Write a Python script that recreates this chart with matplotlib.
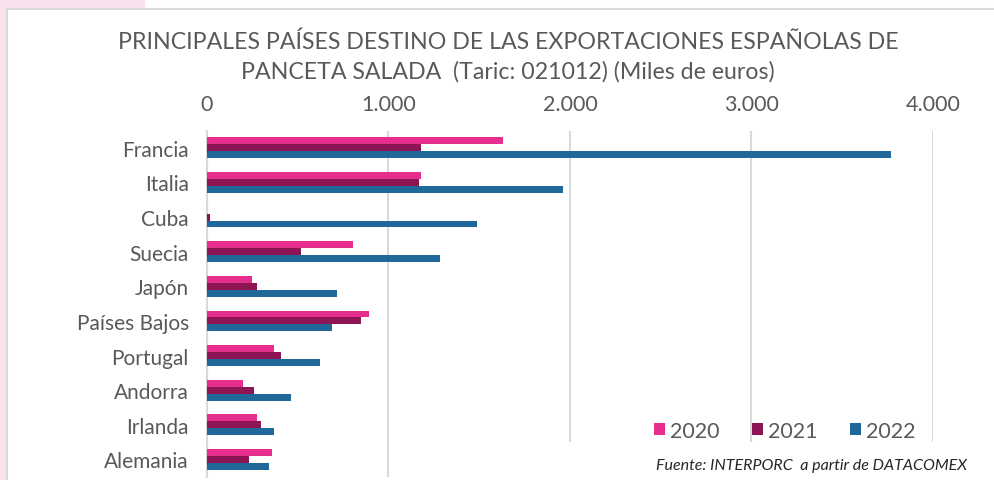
import numpy as np
import matplotlib.pyplot as plt
from matplotlib.patches import Rectangle

# Exportaciones de panceta salada (miles de euros)
paises = ["Francia", "Italia", "Cuba", "Suecia", "Japón",
          "Países Bajos", "Portugal", "Andorra", "Irlanda", "Alemania"]
v2020 = [1633, 1180, 0, 804, 246, 891, 367, 200, 275, 358]
v2021 = [1179, 1168, 15, 520, 275, 850, 408, 257, 298, 230]
v2022 = [3770, 1960, 1485, 1285, 716, 689, 621, 465, 367, 341]
anios = ["2020", "2021", "2022"]

xticks = [0, 1000, 2000, 3000, 4000]
xtick_labels = ["0", "1.000", "2.000", "3.000", "4.000"]

colores = ["#e52e8e", "#8e1553", "#21689a"]
gris_texto = "#595959"
gris_linea = "#d9d9d9"

plt.rcParams['font.family'] = ['Lato', 'DejaVu Sans']

fig = plt.figure(figsize=(9.95, 4.81), dpi=100)
fig.patch.set_facecolor("white")

# marco exterior
fig.patches.append(Rectangle((0, 0), 7 / 995, 1, transform=fig.transFigure,
                             facecolor="#fbe3ee", edgecolor="none", zorder=0))
fig.patches.append(Rectangle((0, 1 - 10 / 481), 145 / 995, 10 / 481, transform=fig.transFigure,
                             facecolor="#fbe3ee", edgecolor="none", zorder=0))
fig.add_artist(plt.Line2D([7 / 995, 7 / 995], [0, 1 - 10 / 481], transform=fig.transFigure,
                          color=gris_linea, lw=1.5))
fig.add_artist(plt.Line2D([7 / 995, 1], [1 - 10 / 481, 1 - 10 / 481], transform=fig.transFigure,
                          color=gris_linea, lw=1.5))

ax = fig.add_axes([207 / 995, 1 - 477.7 / 481, (933 - 207) / 995, (477.7 - 131.5) / 481])

y = np.arange(len(paises))
alto = 0.2
for i, (vals, anio) in enumerate(zip([v2020, v2021, v2022], anios)):
    ax.barh(y + (i - 1) * alto, vals, height=alto, color=colores[i], label=anio, zorder=3)

ax.set_xlim(0, 4000)
ax.set_ylim(len(paises) - 0.5, -0.5)
ax.set_yticks(y)
ax.set_yticklabels(paises)
ax.set_xticks(xticks)
ax.set_xticklabels(xtick_labels)
ax.xaxis.tick_top()
ax.tick_params(axis='x', length=0, pad=12, labelsize=15.5, colors=gris_texto)
ax.tick_params(axis='y', length=0, pad=13, labelsize=15, colors=gris_texto)

for s in ["top", "right", "bottom"]:
    ax.spines[s].set_visible(False)
ax.spines["left"].set_color(gris_linea)
ax.spines["left"].set_linewidth(1.5)
ax.grid(axis='x', color=gris_linea, lw=1.5, zorder=0)
ax.set_axisbelow(True)

fig.text(508 / 995, 1 - 42 / 481, "PRINCIPALES PAÍSES DESTINO DE LAS EXPORTACIONES ESPAÑOLAS DE",
         ha="center", va="center", fontsize=16.7, color=gris_texto)
fig.text(508 / 995, 1 - 72 / 481, "PANCETA SALADA  (Taric: 021012) (Miles de euros)",
         ha="center", va="center", fontsize=16.7, color=gris_texto)

leg = ax.legend(loc="center", bbox_to_anchor=(785 / 995, 1 - 432 / 481),
                bbox_transform=fig.transFigure, ncol=3, frameon=False,
                handlelength=0.5, handleheight=0.5, handletextpad=0.25,
                columnspacing=1.5, fontsize=15.5)
for t in leg.get_texts():
    t.set_color(gris_texto)

# recuadro de la fuente
fig.patches.append(Rectangle((560 / 995, 0), 425 / 995, 38 / 481, transform=fig.transFigure,
                             facecolor="white", edgecolor="none", zorder=2))
fig.text(812 / 995, 1 - 466 / 481, "Fuente: INTERPORC  a partir de DATACOMEX",
         ha="center", va="center", fontsize=11.5, style="italic", color="#262626", zorder=3)

fig.savefig("out.png", dpi=100)
